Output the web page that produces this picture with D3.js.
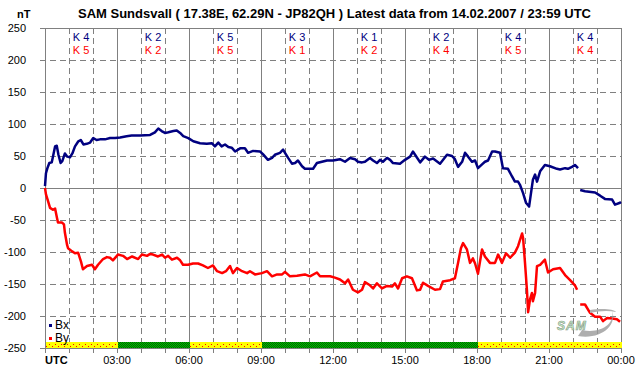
<!DOCTYPE html>
<html>
<head>
<meta charset="utf-8">
<script src="https://cdn.jsdelivr.net/npm/d3@7"></script>
<style>
  body { margin: 0; background: #fff; }
  svg { display: block; font-family: "Liberation Sans", Arial, sans-serif; }
</style>
</head>
<body>
<div id="chart"></div>
<script>
// K indices per 3 hour block
const kBx = [4, 2, 5, 3, 1, 2, 4, 4];
const kBy = [5, 2, 5, 1, 2, 4, 5, 4];

const yTicks = [250, 200, 150, 100, 50, 0, -50, -100, -150, -200, -250];
const xTicks = [0, 3, 6, 9, 12, 15, 18, 21, 24];
const xTickLabels = ["UTC", "03:00", "06:00", "09:00", "12:00", "15:00", "18:00", "21:00", "00:00"];

// Bx (hours UTC, nT) - null marks the data gap
const bxHours = [0, 0.04, 0.1, 0.18, 0.28, 0.32, 0.42, 0.49, 0.56, 0.65, 0.72, 0.83, 0.93, 1.04, 1.14, 1.25, 1.39, 1.49, 1.6, 1.74, 1.88, 2.01, 2.15, 2.29, 2.5, 2.71, 2.92, 3.13, 3.4, 3.61, 3.96, 4.38, 4.58, 4.72, 4.86, 5.0, 5.14, 5.35, 5.49, 5.63, 5.76, 5.97, 6.18, 6.46, 6.74, 6.95, 7.08, 7.22, 7.36, 7.5, 7.64, 7.78, 7.92, 8.13, 8.33, 8.46, 8.67, 8.96, 9.08, 9.29, 9.46, 9.58, 9.79, 9.92, 10.0, 10.13, 10.29, 10.42, 10.54, 10.71, 10.83, 11.17, 11.33, 11.54, 11.75, 12.0, 12.29, 12.5, 12.71, 12.92, 13.04, 13.21, 13.33, 13.54, 13.67, 13.83, 13.96, 14.08, 14.25, 14.38, 14.5, 14.79, 15.0, 15.21, 15.33, 15.42, 15.63, 15.83, 16.0, 16.17, 16.46, 16.75, 16.96, 17.08, 17.21, 17.38, 17.5, 17.63, 17.79, 17.92, 18.04, 18.21, 18.33, 18.46, 18.63, 18.75, 18.96, 19.08, 19.29, 19.46, 19.58, 19.71, 19.79, 19.92, 20.04, 20.17, 20.25, 20.33, 20.42, 20.5, 20.63, 20.83, 21.04, 21.33, 21.46, 21.67, 21.79, 21.96, 22.08, 22.21, 22.25, 22.3, 22.5, 22.92, 23.13, 23.33, 23.63, 23.75, 23.96, 24];
const bxValues = [3, 23, 31, 39, 40, 47, 65, 66, 52, 39, 42, 54, 49, 48, 54, 65, 73, 75, 68, 69, 71, 78, 75, 76, 76, 78, 78, 79, 81, 82, 82, 83, 87, 93, 89, 86, 87, 89, 90, 86, 81, 78, 73, 70, 69, 70, 65, 71, 65, 68, 64, 63, 57, 62, 62, 55, 58, 57, 53, 44, 47, 52, 55, 60, 55, 47, 38, 39, 43, 34, 30, 30, 39, 41, 43, 43, 45, 41, 47, 45, 41, 40, 41, 47, 43, 39, 44, 41, 47, 44, 39, 38, 44, 49, 57, 52, 40, 49, 44, 46, 38, 52, 50, 45, 33, 41, 55, 49, 41, 43, 31, 37, 41, 43, 57, 57, 55, 31, 30, 18, 10, 10, 5, -8, -23, -29, -8, 13, 21, 10, 26, 36, 34, 30, 29, 31, 30, 33, 36, 31, null, -3, -5, -7, -12, -17, -18, -26, -23, -22];

// By (hours UTC, nT)
const byHours = [0, 0.04, 0.13, 0.21, 0.33, 0.42, 0.5, 0.54, 0.71, 0.79, 0.83, 0.92, 0.96, 1.13, 1.25, 1.38, 1.5, 1.58, 1.75, 1.96, 2.08, 2.21, 2.42, 2.58, 2.71, 2.83, 3.04, 3.25, 3.42, 3.63, 3.88, 4.04, 4.25, 4.38, 4.5, 4.71, 4.88, 5.0, 5.13, 5.29, 5.5, 5.63, 5.75, 5.96, 6.17, 6.38, 6.58, 6.79, 7.0, 7.17, 7.38, 7.54, 7.71, 7.83, 8.0, 8.21, 8.42, 8.54, 8.75, 9.04, 9.25, 9.46, 9.67, 9.88, 10.0, 10.21, 10.5, 10.83, 11.04, 11.33, 11.46, 11.88, 12.08, 12.29, 12.5, 12.63, 12.83, 13.04, 13.21, 13.33, 13.54, 13.67, 13.83, 14.04, 14.25, 14.46, 14.58, 14.71, 14.88, 15.08, 15.29, 15.5, 15.63, 15.75, 15.96, 16.25, 16.46, 16.58, 16.88, 17.08, 17.21, 17.33, 17.42, 17.58, 17.71, 17.83, 17.92, 18.04, 18.21, 18.33, 18.54, 18.75, 18.88, 19.04, 19.21, 19.38, 19.58, 19.71, 19.88, 19.92, 20.0, 20.08, 20.13, 20.21, 20.29, 20.33, 20.42, 20.5, 20.63, 20.83, 20.96, 21.17, 21.46, 21.67, 21.88, 22.08, 22.17, 22.25, 22.3, 22.5, 22.71, 22.92, 23.13, 23.25, 23.42, 23.63, 23.83, 23.96];
const byValues = [0, -10, -21, -31, -34, -32, -47, -54, -54, -57, -70, -89, -94, -99, -102, -101, -115, -127, -122, -120, -127, -120, -111, -108, -109, -113, -104, -106, -111, -107, -111, -104, -106, -103, -104, -107, -104, -109, -106, -112, -109, -113, -120, -120, -118, -118, -121, -125, -121, -130, -133, -130, -122, -133, -125, -130, -133, -130, -135, -133, -130, -138, -135, -135, -131, -138, -137, -135, -138, -132, -138, -138, -140, -143, -149, -143, -159, -163, -159, -147, -152, -157, -149, -157, -153, -154, -149, -157, -141, -138, -141, -160, -159, -148, -153, -159, -158, -146, -144, -141, -117, -94, -86, -96, -117, -110, -118, -134, -96, -107, -117, -117, -104, -117, -102, -109, -101, -91, -71, -78, -117, -159, -194, -174, -164, -177, -164, -122, -120, -112, -132, -127, -125, -136, -144, -152, -159, null, -182, -182, -195, -201, -201, -208, -203, -204, -205, -209];

const width = 642, height = 376;
const x = d3.scaleLinear().domain([0, 24]).range([45, 621]);
const y = d3.scaleLinear().domain([-250, 250]).range([348, 28]);
const px = v => Math.round(v) + 0.5;

const svg = d3.select("#chart").append("svg")
    .attr("width", width)
    .attr("height", height);

svg.append("rect").attr("width", width).attr("height", height).attr("fill", "#fff");

const defs = svg.append("defs");
const pYellow = defs.append("pattern").attr("id", "quiet").attr("patternUnits", "userSpaceOnUse")
    .attr("width", 6).attr("height", 6).attr("y", 342);
pYellow.append("rect").attr("width", 6).attr("height", 6).attr("fill", "#ffff00");
pYellow.append("rect").attr("x", 1).attr("y", 2).attr("width", 1).attr("height", 1).attr("fill", "#ff0000");
pYellow.append("rect").attr("x", 4).attr("y", 4).attr("width", 1).attr("height", 1).attr("fill", "#ff0000");
const pGreen = defs.append("pattern").attr("id", "calm").attr("patternUnits", "userSpaceOnUse")
    .attr("width", 2).attr("height", 2);
pGreen.append("rect").attr("width", 2).attr("height", 2).attr("fill", "#00c000");
pGreen.append("rect").attr("width", 1).attr("height", 1).attr("fill", "#006000");
pGreen.append("rect").attr("x", 1).attr("y", 1).attr("width", 1).attr("height", 1).attr("fill", "#006000");

// grid
const grid = svg.append("g").attr("stroke", "#808080").attr("stroke-width", 1).attr("fill", "none");
grid.selectAll("line.h").data(yTicks).enter().append("line")
    .attr("x1", d => (d === 250 || d === -250) ? x(0) : 40)
    .attr("x2", x(24))
    .attr("y1", d => px(y(d))).attr("y2", d => px(y(d)))
    .attr("stroke-dasharray", d => (d % 250 === 0) ? null : "6,4");
grid.selectAll("line.v").data(d3.range(0, 25)).enter().append("line")
    .attr("x1", d => px(x(d))).attr("x2", d => px(x(d)))
    .attr("y1", y(250)).attr("y2", 353)
    .attr("stroke-dasharray", d => d % 3 === 0 ? null : "6,4");
// left ticks for top and bottom
grid.append("line").attr("x1", 40).attr("x2", x(0)).attr("y1", px(y(250))).attr("y2", px(y(250)));
grid.append("line").attr("x1", 40).attr("x2", x(0)).attr("y1", px(y(-250))).attr("y2", px(y(-250)));

// K index activity band
svg.selectAll("rect.band").data(kBx).enter().append("rect")
    .attr("x", (d, i) => x(i * 3) + 1)
    .attr("width", (d, i) => x(i * 3 + 3) - x(i * 3))
    .attr("y", 342).attr("height", 6)
    .attr("fill", d => d >= 4 ? "url(#quiet)" : "url(#calm)");

// K labels
const kg = svg.append("g").attr("font-size", "11px").attr("text-anchor", "middle");
kg.selectAll("text.kx").data(kBx).enter().append("text")
    .attr("x", (d, i) => x(i * 3 + 1.5)).attr("y", 41)
    .attr("fill", "#000080").text(d => "K " + d);
kg.selectAll("text.ky").data(kBy).enter().append("text")
    .attr("x", (d, i) => x(i * 3 + 1.5)).attr("y", 54)
    .attr("fill", "#ff0000").text(d => "K " + d);

// y labels
svg.append("g").attr("font-size", "11px").attr("text-anchor", "end")
  .selectAll("text").data(yTicks).enter().append("text")
    .attr("x", 26).attr("y", d => y(d) + 4)
    .text(d => d);
svg.append("text").attr("x", 17).attr("y", 18).attr("font-size", "11px").attr("font-weight", "bold").text("nT");

// x labels
svg.append("g").attr("font-size", "11px")
  .selectAll("text").data(xTicks).enter().append("text")
    .attr("x", d => x(d))
    .attr("y", 364)
    .attr("text-anchor", (d, i) => i === 0 ? "start" : "middle")
    .attr("font-weight", (d, i) => i === 0 ? "bold" : null)
    .text((d, i) => xTickLabels[i]);

// title
svg.append("text").attr("x", 78).attr("y", 18)
    .attr("font-size", "13px").attr("font-weight", "bold")
    .text("SAM Sundsvall ( 17.38E, 62.29N - JP82QH ) Latest data from 14.02.2007 / 23:59 UTC");

// data lines
const line = d3.line()
    .defined(d => d[1] !== null)
    .x(d => x(d[0])).y(d => y(d[1]));

svg.append("path")
    .datum(bxHours.map((h, i) => [h, bxValues[i]]))
    .attr("fill", "none").attr("stroke", "#000080").attr("stroke-width", 2.5)
    .attr("stroke-linejoin", "round")
    .attr("d", line);
svg.append("path")
    .datum(byHours.map((h, i) => [h, byValues[i]]))
    .attr("fill", "none").attr("stroke", "#ff0000").attr("stroke-width", 2.5)
    .attr("stroke-linejoin", "round")
    .attr("d", line);

// legend
const legend = [["Bx", "#000080"], ["By", "#ff0000"]];
const lg = svg.append("g").attr("font-size", "12px");
lg.selectAll("rect").data(legend).enter().append("rect")
    .attr("x", 49).attr("y", (d, i) => 324 + i * 13).attr("width", 3).attr("height", 3)
    .attr("fill", d => d[1]);
lg.selectAll("text").data(legend).enter().append("text")
    .attr("x", 55).attr("y", (d, i) => 329 + i * 13).text(d => d[0]);

// logo
const logo = svg.append("g");
logo.append("path")
    .attr("d", "M578,336 C600,340 618,326 612,310 C616,324 600,334 582,330 Z")
    .attr("fill", "#9a9a9a").attr("opacity", 0.8);
logo.append("path")
    .attr("d", "M590,310 C602,308 614,309 616,312 C608,310 598,311 590,313 Z")
    .attr("fill", "#b0b0b0");
logo.append("text").attr("x", 557).attr("y", 330)
    .attr("font-size", "12px").attr("font-style", "italic").attr("font-weight", "bold")
    .attr("letter-spacing", "1px")
    .attr("fill", "#c8f0c8").attr("stroke", "#8a9a8a").attr("stroke-width", 0.6)
    .text("SAM");
</script>
</body>
</html>
